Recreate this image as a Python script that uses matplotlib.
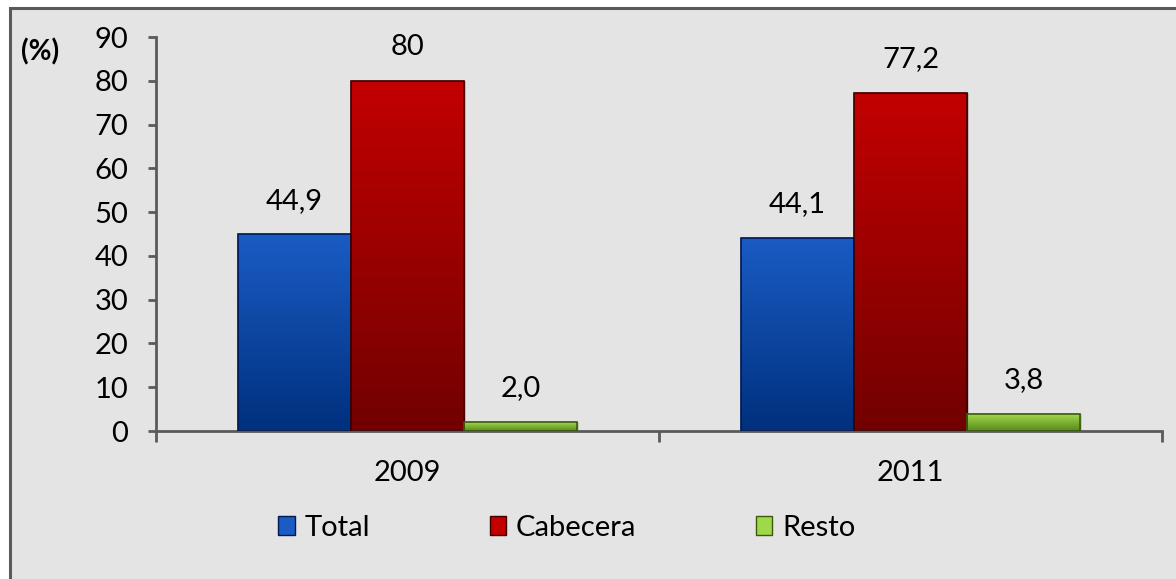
import matplotlib
matplotlib.use("Agg")
import matplotlib.pyplot as plt
import numpy as np
from matplotlib.patches import Rectangle, Patch
from matplotlib.colors import LinearSegmentedColormap

plt.rcParams['font.family'] = ['Lato', 'DejaVu Sans']

years = ["2009", "2011"]
series = ["Total", "Cabecera", "Resto"]
total = [44.9, 44.1]
cabecera = [80.0, 77.2]
resto = [2.0, 3.8]
labels_total = ["44,9", "44,1"]
labels_cabecera = ["80", "77,2"]
labels_resto = ["2,0", "3,8"]
yticks = [0, 10, 20, 30, 40, 50, 60, 70, 80, 90]

colors_top = ["#1a5cc4", "#c20000", "#a0d84c"]
colors_bot = ["#00307e", "#720000", "#5a8a1a"]
edge_colors = ["#001a50", "#400000", "#3a5a10"]

FS = 21

W, H = 1176, 579
fig = plt.figure(figsize=(W / 100, H / 100), dpi=100)
fig.patch.set_facecolor("white")

# framed gray background
frame = Rectangle((10 / W, 0 - 0.05), 1.05, 1 - 8 / H + 0.05, transform=fig.transFigure,
                  facecolor="#e4e4e4", edgecolor="#5a5a5a", linewidth=2.2, zorder=-5)
fig.patches.append(frame)

ax = fig.add_axes([156 / W, 1 - 431 / H, (1162 - 156) / W, (431 - 37) / H])
ax.set_zorder(1)
ax.set_facecolor("none")

x = np.arange(len(years))
bw = 0.225
all_vals = [total, cabecera, resto]
all_labels = [labels_total, labels_cabecera, labels_resto]
for i, (vals, labs) in enumerate(zip(all_vals, all_labels)):
    bars = ax.bar(x + (i - 1) * bw, vals, width=bw, color=colors_top[i],
                  edgecolor=edge_colors[i], linewidth=1.0, zorder=2)
    cmap = LinearSegmentedColormap.from_list("g%d" % i, [colors_bot[i], colors_top[i]])
    for b, lab in zip(bars, labs):
        x0, y0, bw_, bh = b.get_x(), b.get_y(), b.get_width(), b.get_height()
        grad = np.linspace(0, 1, 100).reshape(-1, 1)
        im = ax.imshow(grad, extent=[x0, x0 + bw_, y0, y0 + bh], origin="lower",
                       cmap=cmap, aspect="auto", zorder=2.5)
        im.set_clip_path(b)
        ax.add_patch(Rectangle((x0, y0), bw_, bh, fill=False,
                               edgecolor=edge_colors[i], linewidth=1.2, zorder=3))
        ax.annotate(lab, (x0 + bw_ / 2, y0 + bh), xytext=(0, 15), textcoords="offset points",
                    ha="center", va="bottom", fontsize=FS, color="black", zorder=4)

ax.set_xlim(-0.5, 1.5)
ax.set_ylim(0, 90)
ax.set_yticks(yticks)
ax.set_yticklabels([str(v) for v in yticks], fontsize=FS)
ax.set_xticks([-0.5, 0.5, 1.5])
ax.set_xticklabels([])
ax.set_xticks(x, minor=True)
ax.set_xticklabels(years, minor=True, fontsize=FS)
ax.tick_params(axis="x", which="major", direction="out", length=8, width=2, color="#5a5a5a")
ax.tick_params(axis="x", which="minor", length=0, pad=21)
ax.tick_params(axis="y", direction="out", length=6, width=2, color="#5a5a5a", pad=14)

for s in ["top", "right"]:
    ax.spines[s].set_visible(False)
for s in ["left", "bottom"]:
    ax.spines[s].set_color("#5a5a5a")
    ax.spines[s].set_linewidth(2)

fig.text(21 / W, 1 - 52 / H, "(%)", fontsize=20, fontweight="bold", ha="left", va="center")

handles = [Patch(facecolor=colors_top[i], edgecolor=edge_colors[i]) for i in range(3)]
fig.legend(handles, series, loc="center", bbox_to_anchor=(567 / W, 1 - 528 / H),
           ncol=3, frameon=False, fontsize=FS, handlelength=0.55, handleheight=0.6,
           handletextpad=0.35, columnspacing=4.1)

fig.savefig("out.png", dpi=100, facecolor=fig.get_facecolor())
